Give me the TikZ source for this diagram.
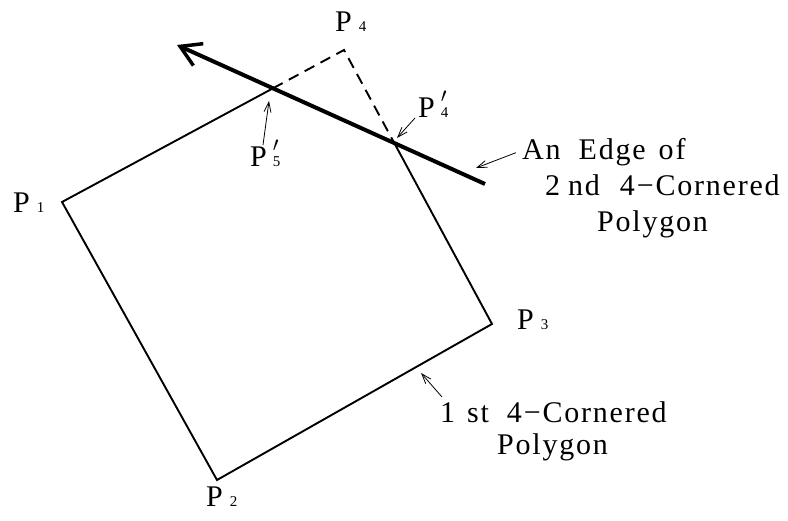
\documentclass[tikz,border=0pt]{standalone}
\usepackage{fontspec}
\setmainfont{Liberation Serif}[LetterSpace=6]
\usetikzlibrary{arrows.meta,calc}
\newcommand\psub[1]{P\hspace{7pt}{\fontsize{15}{15}\selectfont #1}}
\newcommand\psubp[1]{P\hspace{6pt}\rlap{\raisebox{15pt}{\fontsize{20}{20}\selectfont$\prime$}}{\fontsize{15}{15}\selectfont #1}}
\begin{document}
\begin{tikzpicture}[x=1pt,y=-1pt,
  edge/.style={line width=1.9pt, line join=miter},
  dashedge/.style={line width=1.9pt, dash pattern=on 11pt off 7pt},
  bigarrow/.style={line width=4pt, -{Straight Barb[length=20pt,width=24pt,line width=3.5pt]}},
  pointer/.style={line width=0.8pt, -{Straight Barb[length=10pt,width=7pt]}},
  txt/.style={inner sep=0pt, anchor=base west, font=\fontsize{30}{32}\selectfont},
  lbl/.style={inner sep=0pt, anchor=base west, font=\fontsize{30}{32}\selectfont}]
\useasboundingbox (0,0) rectangle (788,521);
% polygon corners
\coordinate (P1) at (62,202);
\coordinate (P2) at (217,480);
\coordinate (P3) at (492,324);
\coordinate (P4) at (344,50);
% edge of 2nd polygon
\coordinate (Atail) at (485,184);
\coordinate (Atip) at (177,45);
\coordinate (P5x) at (intersection of P1--P4 and Atail--Atip);
\coordinate (P4x) at (intersection of P4--P3 and Atail--Atip);
% 1st polygon
\draw[dashedge] (P5x) -- (P4) -- (P4x);
\draw[edge] (P4x) -- (P3) -- (P2) -- (P1) -- (P5x);
% edge of 2nd polygon
\draw[bigarrow] (Atail) -- (Atip);
% labels
\node[lbl] (l1) at (13,213) {\psub{1}};
\node[lbl] (l2) at (206,507) {\psub{2}};
\node[lbl] (l3) at (517,330) {\psub{3}};
\node[lbl] (l4) at (335,32) {\psub{4}};
\node[lbl] (l4p) at (418,118) {\psubp{4}};
\node[lbl] (l5p) at (250,167) {\psubp{5}};
% texts
\node[txt] (t1) at (522,160) {An\hspace{18pt}Edge\hspace{13pt}of};
\node[txt] (t2) at (545,196) {2\hspace{8pt}nd\hspace{20pt}4−Cornered};
\node[txt] (t3) at (597,232) {Polygon};
\node[txt] (t4) at (440,423) {1\hspace{12pt}st\hspace{18pt}4−Cornered};
\node[txt] (t5) at (497,455) {Polygon};
% pointers
\coordinate (e1) at (476,168);
\coordinate (e2) at (421,373);
\coordinate (e3) at (269,101);
\coordinate (e4) at (397,138);
\coordinate (a5) at (263,145);
\draw[pointer] ([xshift=-6pt]t1.west) -- (e1);
\draw[pointer] ([shift={(2,-5)}]t4.north west) -- (e2);
\draw[pointer] (a5) -- (e3);
\draw[pointer] ([xshift=-3pt]l4p.base west) -- (e4);
\end{tikzpicture}
\end{document}
